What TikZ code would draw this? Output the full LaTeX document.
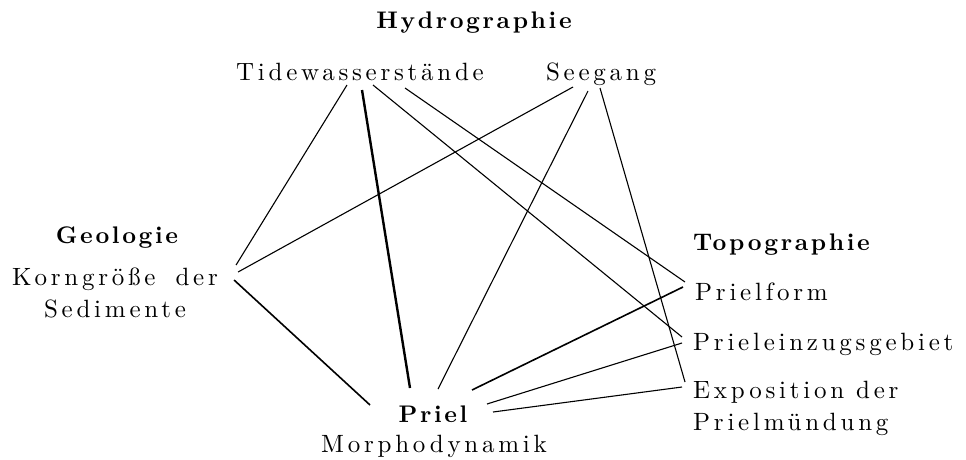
\documentclass[tikz,border=0pt]{standalone}
\usepackage{fontspec}
\setmainfont{lmroman10}[Extension=.otf, UprightFont=*-regular, BoldFont=*-bold,
  UprightFeatures={LetterSpace=15}, BoldFeatures={LetterSpace=11}]
\usetikzlibrary{calc}

\tikzset{
  lbl/.style={font=\fontsize{25}{32}\selectfont, inner sep=0pt, anchor=base},
  head/.style={lbl, font=\fontsize{24}{32}\selectfont\bfseries},
  link/.style={line width=1.1pt},
  midlink/.style={line width=1.6pt},
  boldlink/.style={line width=2.4pt}
}

\begin{document}
\begin{tikzpicture}[x=1pt, y=-1pt]
    \useasboundingbox (0,0) rectangle (966,459);
    % groups and factors
    \node[head] (hydro) at (474,28) {Hydrographie};
    \node[lbl] (tide) at (360,80) {Tidewasserstände};
    \node[lbl] (see) at (601,80) {Seegang};
    \node[head] (geo) at (117,243) {Geologie};
    \node[lbl, align=center] (korn) at (115,317) {Korngröße\hspace{8pt} der\\Sedimente};
    \node[head, anchor=base west] (topo) at (693,250) {Topographie};
    \node[lbl, anchor=base west] (form) at (695,300) {Prielform};
    \node[lbl, anchor=base west] (einzug) at (693,350) {Prieleinzugsgebiet};
    \node[lbl, anchor=base west, align=left] (expo) at (693,430) {Exposition der\\Prielmündung};
    \node[head] (priel) at (433,422) {Priel};
    \node[lbl] (morph) at (434,452) {Morphodynamik};
    % connections
    \draw[link] ($(tide.base)+(-13,5)$) -- ($(korn.base east)+(18,-52)$);
    \draw[boldlink] ($(tide.base)+(2,10)$) -- ($(priel.base)+(-23,-34)$);
    \draw[link] ($(tide.base)+(13,5)$) -- ($(einzug.base west)+(-11,-13)$);
    \draw[link] ($(tide.base)+(45,8)$) -- ($(form.base west)+(-10,-18)$);
    \draw[link] ($(see.base)+(-28,7)$) -- ($(korn.base east)+(20,-45)$);
    \draw[link] ($(see.base)+(-13,11)$) -- ($(priel.base)+(5,-33)$);
    \draw[link] ($(see.base)+(-1,8)$) -- ($(expo.base west)+(-8,-48)$);
    \draw[midlink] ($(korn.base east)+(16,-37)$) -- ($(priel.base)+(-63,-17)$);
    \draw[midlink] ($(priel.base)+(39,-32)$) -- ($(form.base west)+(-12,-13)$);
    \draw[link] ($(priel.base)+(54,-18)$) -- ($(einzug.base west)+(-11,-7)$);
    \draw[link] ($(priel.base)+(60,-10)$) -- ($(expo.base west)+(-11,-43)$);
\end{tikzpicture}
\end{document}
